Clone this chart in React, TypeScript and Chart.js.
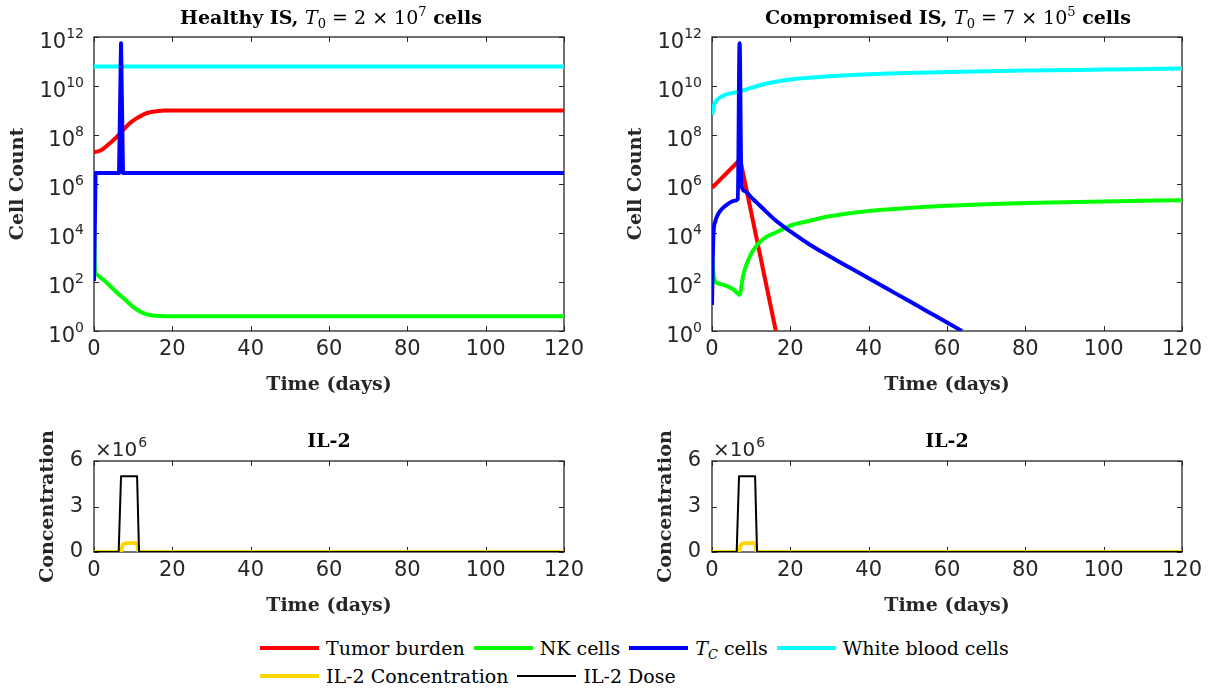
import React, { useEffect, useRef } from "react";
import { Chart, registerables } from "chart.js";

Chart.register(...registerables);

// ---------------- data ----------------
const xTicks = [0, 20, 40, 60, 80, 100, 120];
const logTickExponents = [0, 2, 4, 6, 8, 10, 12];
const il2TickValues = [0, 3e6, 6e6];
const il2TickLabels = ["0", "3", "6"];
const il2ScaleExponent = 6;

// Healthy immune system
const hTumorDays = [0, 1, 2, 3, 4, 5, 6, 7, 8, 9, 10, 11, 12, 13, 14, 16, 18, 120];
const hTumorCells = [2.0e7, 2.14e7, 2.51e7, 3.31e7, 4.57e7, 6.31e7, 8.91e7, 1.32e8, 2.0e8, 2.88e8, 3.89e8, 4.9e8, 6.03e8, 7.24e8, 8.32e8, 9.33e8, 1.0e9, 1.0e9];
const hNkDays = [0, 0.3, 0.7, 1.5, 2.5, 3.5, 4.5, 5.5, 6.5, 7.5, 8.5, 9.5, 10.5, 11.5, 12.5, 13.5, 15, 17, 20, 120];
const hNkCells = [1.0e5, 224, 200, 158, 120, 85, 60, 42, 30, 22.4, 15.8, 11.2, 8.3, 6.6, 5.5, 4.8, 4.3, 4.07, 4.0, 4.0];
const hTcDays = [0, 0.4, 6.4, 6.9, 7.4, 120];
const hTcCells = [110, 2.8e6, 2.8e6, 5.6e11, 2.8e6, 2.8e6];
const hWbcDays = [0, 120];
const hWbcCells = [6.2e10, 6.2e10];

// Compromised immune system
const cTumorDays = [0, 7.2, 16.3];
const cTumorCells = [7.0e5, 1.0e7, 1.0];
const cNkDays = [0, 0.4, 0.8, 1.5, 3, 5, 6, 7, 8, 9, 10, 11, 12, 14, 16, 18, 20, 25, 30, 40, 50, 60, 70, 80, 100, 120];
const cNkCells = [1200, 200, 105, 89, 76, 56, 42, 30, 200, 631, 1410, 2510, 3980, 7080, 10000, 14100, 20000, 31600, 47900, 79400, 105000, 129000, 148000, 166000, 195000, 219000];
const cTcDays = [0, 0.2, 0.4, 0.8, 1.5, 2.5, 4, 5.5, 6.6, 7.05, 7.5, 8.2, 8.8, 10, 11.3, 13, 16.2, 20.2, 25, 30, 35, 40, 45, 50, 55, 60, 63.8];
const cTcCells = [11.5, 1000, 11200, 28200, 56200, 95500, 151000, 200000, 240000, 5.6e11, 1.0e6, 525000, 468000, 282000, 182000, 100000, 33100, 11000, 3310, 1120, 398, 141, 50.1, 17.8, 6.31, 2.24, 1.0];
const cWbcDays = [0, 0.5, 1, 2, 3, 5, 7, 10, 14, 20, 30, 40, 60, 80, 100, 120];
const cWbcCells = [6.6e8, 1.58e9, 2.4e9, 3.39e9, 4.17e9, 5.13e9, 5.89e9, 8.32e9, 1.26e10, 1.86e10, 2.51e10, 3.02e10, 3.72e10, 4.27e10, 4.68e10, 5.13e10];

// IL-2 (same in both panels)
const il2DoseDays = [0, 6.3, 6.9, 11.0, 11.5, 120];
const il2Dose = [0, 0, 5e6, 5e6, 0, 0];
const il2ConcDays = [0, 6.8, 7.4, 8.5, 10.5, 11.0, 11.4, 120];
const il2Conc = [0, 0, 5.0e5, 5.8e5, 6.0e5, 5.5e5, 0, 0];

// ---------------- style ----------------
const RED = "#FF0000";
const GREEN = "#00FF00";
const BLUE = "#0000FF";
const CYAN = "#00FFFF";
const GOLD = "#FFD700";
const BLACK = "#000000";
const AXIS = "#262626";
const SANS = '"DejaVu Sans", "Liberation Sans", sans-serif';
const SERIF = '"DejaVu Serif", "Liberation Serif", serif';
const TICK_SIZE = 21;

function series(days: number[], vals: number[], color: string, width: number, order: number, smooth: boolean) {
  return {
    data: days.map((d, i) => ({ x: d, y: vals[i] })),
    borderColor: color,
    backgroundColor: color,
    borderWidth: width,
    pointRadius: 0,
    fill: false,
    order,
    tension: 0,
    cubicInterpolationMode: smooth ? "monotone" : "default",
    borderJoinStyle: "round",
    borderCapStyle: "butt",
  };
}

const matlabAxes = {
  id: "matlabAxes",
  beforeDatasetsDraw(chart: any, _a: any, opts: any) {
    const { ctx, chartArea: a, scales } = chart;
    const xs = scales.x;
    const ys = scales.y;
    const L = opts.tickLen || 5;
    ctx.save();
    ctx.strokeStyle = AXIS;
    ctx.lineWidth = 1;
    ctx.beginPath();
    xs.ticks.forEach((t: any) => {
      const px = Math.round(xs.getPixelForValue(t.value)) + 0.5;
      ctx.moveTo(px, a.bottom);
      ctx.lineTo(px, a.bottom - L);
      ctx.moveTo(px, a.top);
      ctx.lineTo(px, a.top + L);
    });
    ys.ticks.forEach((t: any) => {
      const py = Math.round(ys.getPixelForValue(t.value)) + 0.5;
      ctx.moveTo(a.left, py);
      ctx.lineTo(a.left + L, py);
      ctx.moveTo(a.right, py);
      ctx.lineTo(a.right - L, py);
    });
    ctx.stroke();
    ctx.lineWidth = 1.3;
    ctx.strokeRect(a.left, a.top, a.right - a.left, a.bottom - a.top);
    ctx.restore();
  },
  afterDraw(chart: any, _a: any, opts: any) {
    const { ctx, chartArea: a, scales } = chart;
    const ys = scales.y;
    ctx.save();
    ctx.fillStyle = AXIS;
    if (opts.logExponents) {
      for (const e of opts.logExponents as number[]) {
        const py = ys.getPixelForValue(Math.pow(10, e));
        const right = a.left - 10;
        ctx.font = `14px ${SANS}`;
        const es = String(e);
        const ew = ctx.measureText(es).width;
        ctx.textAlign = "left";
        ctx.textBaseline = "alphabetic";
        ctx.fillText(es, right - ew, py + 1);
        ctx.font = `${TICK_SIZE}px ${SANS}`;
        ctx.textAlign = "right";
        ctx.fillText("10", right - ew, py + 11);
      }
    }
    if (opts.multiplierExp !== undefined) {
      ctx.font = `20px ${SANS}`;
      ctx.textAlign = "left";
      ctx.textBaseline = "alphabetic";
      const base = "\u00D710";
      ctx.fillText(base, a.left + 1, a.top - 5);
      const bw = ctx.measureText(base).width;
      ctx.font = `14px ${SANS}`;
      ctx.fillText(String(opts.multiplierExp), a.left + 1 + bw + 1, a.top - 14);
    }
    ctx.restore();
  },
};

type Box = { x: number; y: number; w: number; h: number };

const titleFont = { family: SERIF, size: 19, weight: "bold" };

function xScale(height: number) {
  return {
    type: "linear",
    min: 0,
    max: 120,
    afterBuildTicks: (s: any) => {
      s.ticks = xTicks.map((v) => ({ value: v }));
    },
    ticks: {
      font: { family: SANS, size: TICK_SIZE },
      color: AXIS,
      padding: 6,
      maxRotation: 0,
      autoSkip: false,
      callback: (v: any) => String(v),
    },
    grid: { display: false, drawTicks: false },
    border: { display: false },
    title: { display: true, text: "Time (days)", font: titleFont, color: AXIS, padding: 0 },
    afterFit: (s: any) => {
      s.height = height;
    },
  };
}

function rightPad(box: Box) {
  return box.x + box.w - (box.x > 0 ? 1182 : 564);
}

function cellConfig(box: Box, datasets: any[]) {
  return {
    type: "line",
    data: { datasets },
    options: {
      animation: false,
      responsive: false,
      maintainAspectRatio: false,
      devicePixelRatio: 1,
      events: [],
      layout: { padding: { left: 0, top: 37, right: rightPad(box), bottom: 4 } },
      plugins: {
        legend: { display: false },
        tooltip: { enabled: false },
        matlabAxes: { logExponents: logTickExponents, tickLen: 5 },
      },
      scales: {
        x: xScale(400 - 4 - 331),
        y: {
          type: "logarithmic",
          min: 1,
          max: 1e12,
          afterBuildTicks: (s: any) => {
            s.ticks = logTickExponents.map((e) => ({ value: Math.pow(10, e) }));
          },
          ticks: { display: false },
          grid: { display: false, drawTicks: false },
          border: { display: false },
          title: { display: true, text: "Cell Count", font: titleFont, color: AXIS, padding: { top: 7, bottom: 0 } },
          afterFit: (s: any) => {
            s.width = 94;
          },
        },
      },
    },
    plugins: [matlabAxes],
  };
}

function il2Config(box: Box) {
  return {
    type: "line",
    data: {
      datasets: [
        series(il2DoseDays, il2Dose, BLACK, 2, 1, false),
        series(il2ConcDays, il2Conc, GOLD, 4, 2, true),
      ],
    },
    options: {
      animation: false,
      responsive: false,
      maintainAspectRatio: false,
      devicePixelRatio: 1,
      events: [],
      layout: { padding: { left: 0, top: 61, right: rightPad(box), bottom: 3 } },
      plugins: {
        legend: { display: false },
        tooltip: { enabled: false },
        matlabAxes: { tickLen: 5, multiplierExp: il2ScaleExponent },
      },
      scales: {
        x: xScale(220 - 3 - 152),
        y: {
          type: "linear",
          min: 0,
          max: 6e6,
          afterBuildTicks: (s: any) => {
            s.ticks = il2TickValues.map((v) => ({ value: v }));
          },
          ticks: {
            font: { family: SANS, size: TICK_SIZE },
            color: AXIS,
            padding: 11,
            callback: (_v: any, i: number) => il2TickLabels[i],
          },
          grid: { display: false, drawTicks: false },
          border: { display: false },
          title: { display: true, text: "Concentration", font: titleFont, color: AXIS, padding: { top: 37, bottom: 0 } },
          afterFit: (s: any) => {
            s.width = 94;
          },
        },
      },
    },
    plugins: [matlabAxes],
  };
}

function ChartBox({ box, config }: { box: Box; config: any }) {
  const ref = useRef<HTMLCanvasElement>(null);
  useEffect(() => {
    const chart = new Chart(ref.current as HTMLCanvasElement, config);
    return () => chart.destroy();
  }, []);
  return (
    <canvas
      ref={ref}
      width={box.w}
      height={box.h}
      style={{ position: "absolute", left: box.x, top: box.y, width: box.w, height: box.h }}
    />
  );
}

const sub: React.CSSProperties = { fontSize: 13, position: "relative", top: 4 };
const sup: React.CSSProperties = { fontSize: 13, position: "relative", top: -8 };
const mathStyle: React.CSSProperties = { fontWeight: 400 };

function Title({ cx, cy, children }: { cx: number; cy: number; children: React.ReactNode }) {
  return (
    <div
      style={{
        position: "absolute",
        left: cx - 250,
        width: 500,
        top: cy - 12,
        height: 24,
        lineHeight: "24px",
        textAlign: "center",
        font: `bold 19px ${SERIF}`,
        color: "#000",
        whiteSpace: "nowrap",
      }}
    >
      {children}
    </div>
  );
}

const legendRow1 = [
  { label: "Tumor burden", color: RED, lw: 4 },
  { label: "NK cells", color: GREEN, lw: 4 },
  { label: "TC cells", color: BLUE, lw: 4 },
  { label: "White blood cells", color: CYAN, lw: 4 },
];
const legendRow2 = [
  { label: "IL-2 Concentration", color: GOLD, lw: 4 },
  { label: "IL-2 Dose", color: BLACK, lw: 2 },
];

function legendLabel(label: string) {
  if (label === "TC cells") {
    return (
      <span>
        <i>T</i>
        <span style={{ fontSize: 13, position: "relative", top: 4, fontStyle: "italic" }}>C</span> cells
      </span>
    );
  }
  return <span>{label}</span>;
}

function LegendRow({ items, top }: { items: any[]; top: number }) {
  return (
    <div
      style={{
        position: "absolute",
        left: 260,
        top,
        height: 24,
        display: "flex",
        alignItems: "center",
        font: `19px ${SERIF}`,
        color: "#000",
        whiteSpace: "nowrap",
      }}
    >
      {items.map((it) => (
        <div key={it.label} style={{ display: "flex", alignItems: "center", marginRight: 9 }}>
          <div style={{ width: 59, height: it.lw, background: it.color, marginRight: 7 }} />
          {legendLabel(it.label)}
        </div>
      ))}
    </div>
  );
}

const boxTL: Box = { x: 0, y: 0, w: 600, h: 400 };
const boxTR: Box = { x: 618, y: 0, w: 594, h: 400 };
const boxBL: Box = { x: 0, y: 400, w: 600, h: 220 };
const boxBR: Box = { x: 618, y: 400, w: 594, h: 220 };

export default function App() {
  const healthy = [
    series(hTcDays, hTcCells, BLUE, 4, 1, false),
    series(hNkDays, hNkCells, GREEN, 4, 2, true),
    series(hTumorDays, hTumorCells, RED, 4, 3, true),
    series(hWbcDays, hWbcCells, CYAN, 4, 4, false),
  ];
  const compromised = [
    series(cTcDays, cTcCells, BLUE, 4, 1, true),
    series(cNkDays, cNkCells, GREEN, 4, 2, true),
    series(cTumorDays, cTumorCells, RED, 4, 3, false),
    series(cWbcDays, cWbcCells, CYAN, 4, 4, true),
  ];
  return (
    <div style={{ position: "fixed", left: 0, top: 0, width: 1212, height: 688, background: "#fff", overflow: "hidden" }}>
      <ChartBox box={boxTL} config={cellConfig(boxTL, healthy)} />
      <ChartBox box={boxTR} config={cellConfig(boxTR, compromised)} />
      <ChartBox box={boxBL} config={il2Config(boxBL)} />
      <ChartBox box={boxBR} config={il2Config(boxBR)} />
      <Title cx={331} cy={18}>
        Healthy IS,{" "}
        <span style={mathStyle}>
          <i>T</i>
          <span style={sub}>0</span> = 2 × 10<span style={sup}>7</span>
        </span>{" "}
        cells
      </Title>
      <Title cx={948} cy={18}>
        Compromised IS,{" "}
        <span style={mathStyle}>
          <i>T</i>
          <span style={sub}>0</span> = 7 × 10<span style={sup}>5</span>
        </span>{" "}
        cells
      </Title>
      <Title cx={329} cy={441}>IL-2</Title>
      <Title cx={947} cy={441}>IL-2</Title>
      <LegendRow items={legendRow1} top={636} />
      <LegendRow items={legendRow2} top={664} />
    </div>
  );
}
